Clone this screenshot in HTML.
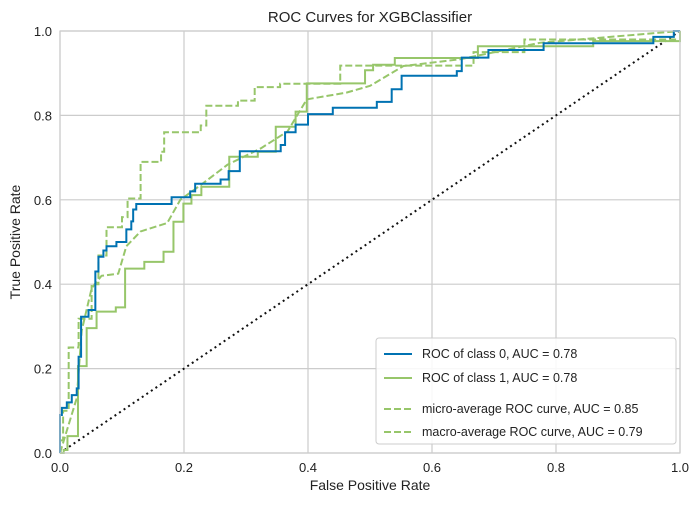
<!DOCTYPE html>
<html><head><meta charset="utf-8"><style>
body{margin:0;background:#fff;font-family:"Liberation Sans",sans-serif}
</style></head><body>
<svg id="chart" width="698" height="505" xmlns="http://www.w3.org/2000/svg" font-family="Liberation Sans, sans-serif">
<rect x="60" y="31" width="620" height="422" fill="#fff" stroke="none"/>
<g id="grid"></g>
<g id="series"></g>
<rect x="60" y="31" width="620" height="422" fill="none" stroke="#ccc" stroke-width="1.2"/>
<g id="ticklabels" font-size="13" fill="#222"></g>
<text x="370" y="22" text-anchor="middle" font-size="15" fill="#222">ROC Curves for XGBClassifier</text>
<text x="370" y="490" text-anchor="middle" font-size="14" fill="#222">False Positive Rate</text>
<text x="20" y="242" text-anchor="middle" font-size="14" fill="#222" transform="rotate(-90 20 242)">True Positive Rate</text>
<g>
<rect x="376" y="338" width="300" height="106" fill="#fff" fill-opacity="0.85" stroke="#ccc" rx="3"/>
<g font-size="12.5" fill="#222">
<line x1="384" y1="354" x2="412" y2="354" stroke="#0072b2" stroke-width="2"/><text x="422" y="358">ROC of class 0, AUC = 0.78</text>
<line x1="384" y1="378" x2="412" y2="378" stroke="#97c66a" stroke-width="2"/><text x="422" y="382">ROC of class 1, AUC = 0.78</text>
<line x1="384" y1="409" x2="412" y2="409" stroke="#97c66a" stroke-width="2" stroke-dasharray="7,3"/><text x="422" y="413">micro-average ROC curve, AUC = 0.85</text>
<line x1="384" y1="432" x2="412" y2="432" stroke="#97c66a" stroke-width="2" stroke-dasharray="7,3"/><text x="422" y="436">macro-average ROC curve, AUC = 0.79</text>
</g></g>
</svg>
<script>
var class0Fpr=[0,0,0.003,0.011,0.019,0.027,0.03,0.034,0.046,0.057,0.062,0.07,0.075,0.091,0.107,0.115,0.118,0.123,0.18,0.21,0.218,0.259,0.272,0.29,0.356,0.363,0.38,0.4,0.44,0.511,0.535,0.551,0.64,0.648,0.691,0.78,0.957,0.99,1];
var class0Tpr=[0,0.09,0.107,0.12,0.137,0.153,0.228,0.323,0.339,0.43,0.465,0.48,0.49,0.5,0.53,0.549,0.577,0.59,0.606,0.62,0.638,0.648,0.668,0.715,0.73,0.76,0.778,0.803,0.818,0.832,0.862,0.894,0.905,0.937,0.955,0.971,0.986,1,1];
var class1Fpr=[0,0.006,0.012,0.029,0.043,0.059,0.09,0.105,0.136,0.167,0.183,0.199,0.212,0.228,0.273,0.319,0.348,0.38,0.398,0.492,0.505,0.54,0.674,0.86,1];
var class1Tpr=[0,0.007,0.04,0.206,0.296,0.335,0.345,0.437,0.453,0.477,0.548,0.591,0.611,0.631,0.702,0.714,0.773,0.809,0.876,0.907,0.92,0.936,0.964,0.976,1];
var microFpr=[0,0.005,0.014,0.03,0.051,0.062,0.075,0.1,0.109,0.13,0.163,0.168,0.227,0.236,0.287,0.314,0.355,0.452,0.667,0.749,1];
var microTpr=[0.03,0.1,0.25,0.318,0.4,0.468,0.535,0.559,0.603,0.69,0.714,0.76,0.776,0.823,0.835,0.867,0.875,0.918,0.95,0.98,1];
var macroFpr=[0,0.027,0.035,0.051,0.067,0.094,0.107,0.13,0.173,0.194,0.227,0.27,0.324,0.367,0.398,0.462,0.5,0.554,0.645,0.774,1];
var macroTpr=[0,0.13,0.29,0.39,0.42,0.425,0.49,0.525,0.545,0.6,0.635,0.683,0.722,0.762,0.838,0.854,0.87,0.917,0.933,0.972,1];
var ticks=[0,0.2,0.4,0.6,0.8,1.0];
var tickLabels=["0.0","0.2","0.4","0.6","0.8","1.0"];

var NS="http://www.w3.org/2000/svg";
function X(v){return 60+v*620;}
function Y(v){return 453-v*422;}
var grid=document.getElementById('grid'), tl=document.getElementById('ticklabels'), ser=document.getElementById('series');
ticks.forEach(function(t,i){
  var gx=document.createElementNS(NS,'line');
  gx.setAttribute('x1',X(t));gx.setAttribute('x2',X(t));gx.setAttribute('y1',31);gx.setAttribute('y2',453);
  gx.setAttribute('stroke','#ccc');gx.setAttribute('stroke-width','1.2');
  
  
  grid.appendChild(gx);
  var gy=document.createElementNS(NS,'line');
  gy.setAttribute('y1',Y(t));gy.setAttribute('y2',Y(t));gy.setAttribute('x1',60);gy.setAttribute('x2',680);
  gy.setAttribute('stroke','#ccc');gy.setAttribute('stroke-width','1.2');
  
  
  grid.appendChild(gy);
  var a=document.createElementNS(NS,'text');
  a.setAttribute('x',X(t));a.setAttribute('y',472);a.setAttribute('text-anchor','middle');a.textContent=tickLabels[i];
  
  
  tl.appendChild(a);
  var b=document.createElementNS(NS,'text');
  b.setAttribute('x',52);b.setAttribute('y',Y(t)+5);b.setAttribute('text-anchor','end');b.textContent=tickLabels[i];
  
  
  tl.appendChild(b);
});
function stepPath(xs,ys){var d='M'+X(xs[0])+','+Y(ys[0]);for(var i=1;i<xs.length;i++){d+=' L'+X(xs[i])+','+Y(ys[i-1])+' L'+X(xs[i])+','+Y(ys[i]);}return d;}
function linePath(xs,ys){return xs.map(function(x,i){return (i?'L':'M')+X(x)+','+Y(ys[i]);}).join(' ');}
function add(d,color,dash,name,w){var p=document.createElementNS(NS,'path');p.setAttribute('d',d);p.setAttribute('fill','none');p.setAttribute('stroke',color);p.setAttribute('stroke-width',w||'2');if(dash)p.setAttribute('stroke-dasharray',dash);


ser.appendChild(p);}
add(linePath([0,1],[0,1]),'#111','2,3.5','chance-line','2');
add(linePath(macroFpr,macroTpr),'#97c66a','7,3','macro-average-curve');
add(stepPath(microFpr,microTpr),'#97c66a','7,3','micro-average-curve');
add(stepPath(class1Fpr,class1Tpr),'#97c66a',null,'class-1-curve');
add(stepPath(class0Fpr,class0Tpr),'#0072b2',null,'class-0-curve');
</script>
</body></html>
